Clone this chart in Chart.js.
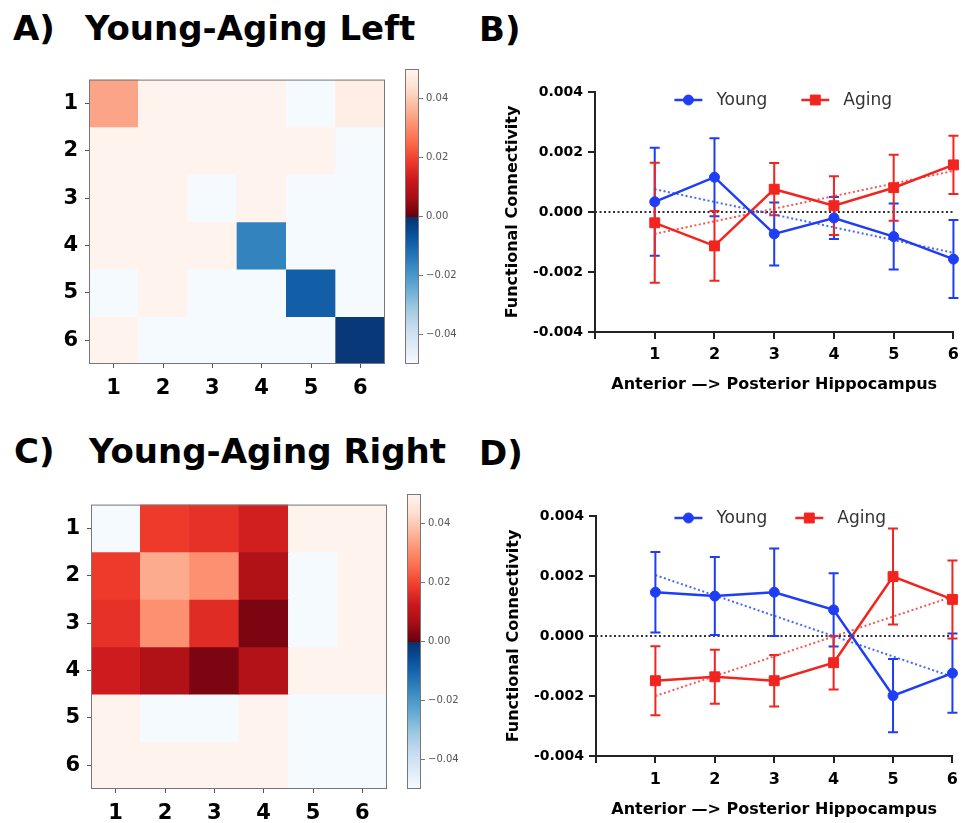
<!DOCTYPE html>
<html>
<head>
<meta charset="utf-8">
<script src="https://cdn.jsdelivr.net/npm/chart.js@4.4.1/dist/chart.umd.min.js"></script>
<style>
  body { margin: 0; background: #fff; width: 965px; height: 823px; position: relative; overflow: hidden; }
  .box { position: absolute; }
  .lbl { position: absolute; font: bold 34px/34px "DejaVu Sans"; color: #000; white-space: nowrap; }
</style>
</head>
<body>
<div class="lbl" style="left:13px;top:11px">A)</div>
<div class="lbl" style="left:85px;top:11px">Young-Aging Left</div>
<div class="lbl" style="left:479px;top:12px">B)</div>
<div class="lbl" style="left:14px;top:434px">C)</div>
<div class="lbl" style="left:89px;top:434px">Young-Aging Right</div>
<div class="lbl" style="left:479px;top:436px">D)</div>

<div class="box" style="left:40px;top:60px;width:350px;height:345px"><canvas id="heatLeft"></canvas></div>
<div class="box" style="left:400px;top:60px;width:65px;height:345px"><canvas id="barLeft"></canvas></div>
<div class="box" style="left:470px;top:60px;width:495px;height:345px"><canvas id="profileLeft"></canvas></div>
<div class="box" style="left:42px;top:485px;width:350px;height:345px"><canvas id="heatRight"></canvas></div>
<div class="box" style="left:402px;top:485px;width:65px;height:345px"><canvas id="barRight"></canvas></div>
<div class="box" style="left:470px;top:480px;width:495px;height:343px"><canvas id="profileRight"></canvas></div>

<script>
// Hippocampal segments, anterior -> posterior
const regions = ['1', '2', '3', '4', '5', '6'];

// Young-Aging difference matrices (row = segment, col = segment)
const leftMatrix = [
    [0.034, 0.0495, 0.0495, 0.0495, -0.0495, 0.048],
    [0.0495, 0.0495, 0.0495, 0.0495, 0.0495, -0.0495],
    [0.0495, 0.0495, -0.0495, 0.0495, -0.0495, -0.0495],
    [0.0495, 0.0495, 0.0495, -0.016, -0.0495, -0.0495],
    [-0.0495, 0.0495, -0.0495, -0.0495, -0.009, -0.0495],
    [0.0495, -0.0495, -0.0495, -0.0495, -0.0495, -0.0015]
];
const rightMatrix = [
    [-0.0495, 0.0185, 0.017, 0.0135, 0.0495, 0.0495],
    [0.0185, 0.035, 0.031, 0.008, -0.0495, 0.0495],
    [0.017, 0.031, 0.016, 0.002, -0.0495, 0.0495],
    [0.013, 0.008, 0.002, 0.0085, 0.0495, 0.0495],
    [0.0495, -0.0495, -0.0495, 0.0495, -0.0495, -0.0495],
    [0.0495, 0.0495, 0.0495, 0.0495, -0.0495, -0.0495]
];
const cbMin = -0.05;
const cbMax = 0.05;
const cbTicks = [-0.04, -0.02, 0, 0.02, 0.04];

// Functional connectivity profiles (mean and error)
const positions = [1, 2, 3, 4, 5, 6];
const youngLeft = [0.00034, 0.00116, -0.00073, -0.0002, -0.00082, -0.00157];
const youngLeftErr = [0.0018, 0.0013, 0.00105, 0.0007, 0.0011, 0.0013];
const agingLeft = [-0.00036, -0.00113, 0.00076, 0.00021, 0.00081, 0.00157];
const agingLeftErr = [0.002, 0.00116, 0.00087, 0.00098, 0.0011, 0.00097];
const youngRight = [0.00146, 0.00133, 0.00146, 0.00087, -0.00199, -0.00124];
const youngRightErr = [0.00134, 0.0013, 0.00146, 0.00122, 0.00122, 0.00132];
const agingRight = [-0.00149, -0.00136, -0.00149, -0.00089, 0.00198, 0.00122];
const agingRightErr = [0.00115, 0.0009, 0.00086, 0.00089, 0.0016, 0.0013];

// Linear fit end points (at first and last segment)
const trendX = [1, 6];
const youngLeftTrend = [0.00076, -0.00136];
const agingLeftTrend = [-0.00073, 0.00137];
const youngRightTrend = [0.00203, -0.00136];
const agingRightTrend = [-0.002, 0.00131];

const BLUE = '#1f3df5';
const RED = '#f2241f';

Chart.defaults.font.family = '"DejaVu Sans"';
Chart.defaults.color = '#000';
Chart.defaults.animation = false;

// matplotlib Reds / Blues nodes
const redsNodes = ['#fff5f0', '#fee0d2', '#fcbba1', '#fc9272', '#fb6a4a', '#ef3b2c', '#cb181d', '#a50f15', '#67000d'];
const bluesNodes = ['#f7fbff', '#deebf7', '#c6dbef', '#9ecae1', '#6baed6', '#4292c6', '#2171b5', '#08519c', '#08306b'];

function hexRgb(h) {
    return [parseInt(h.slice(1, 3), 16), parseInt(h.slice(3, 5), 16), parseInt(h.slice(5, 7), 16)];
}

function sampleMap(nodes, t) {
    t = Math.max(0, Math.min(1, t));
    const pos = t * (nodes.length - 1);
    const i = Math.min(Math.floor(pos), nodes.length - 2);
    const f = pos - i;
    const a = hexRgb(nodes[i]), b = hexRgb(nodes[i + 1]);
    const c = a.map((v, k) => Math.round(v + (b[k] - v) * f));
    return `rgb(${c[0]}, ${c[1]}, ${c[2]})`;
}

// dark at zero, fading to white towards both ends
function cellColor(v) {
    if (v >= 0) return sampleMap(redsNodes, 1 - v / cbMax);
    return sampleMap(bluesNodes, 1 - v / cbMin);
}

const frame = {
    id: 'frame',
    afterDraw(chart) {
        const { ctx, chartArea: a } = chart;
        ctx.save();
        ctx.strokeStyle = '#777';
        ctx.lineWidth = 1;
        ctx.strokeRect(a.left + 0.5, a.top + 0.5, a.right - a.left - 1, a.bottom - a.top - 1);
        ctx.restore();
    }
};

function heatmap(id, matrix) {
    return new Chart(document.getElementById(id), {
        type: 'bar',
        data: {
            labels: regions,
            datasets: matrix.map((row, i) => ({
                label: regions[i],
                data: row.map(() => 1),
                backgroundColor: row.map(cellColor),
                borderWidth: 0,
                barPercentage: 1,
                categoryPercentage: 1
            }))
        },
        options: {
            responsive: true,
            maintainAspectRatio: false,
            layout: { padding: { top: 8, right: 5, left: 0, bottom: 0 } },
            plugins: { legend: { display: false }, tooltip: { enabled: false } },
            scales: {
                x: {
                    stacked: true,
                    afterFit: s => { s.height = 41; },
                    grid: { offset: false, drawOnChartArea: false, tickLength: 4, color: '#555' },
                    border: { display: false },
                    ticks: { font: { size: 21, weight: 'bold' }, padding: 8, color: '#000' }
                },
                y: {
                    stacked: true,
                    reverse: true,
                    min: 0,
                    max: regions.length,
                    afterFit: s => { s.width = 49; },
                    afterBuildTicks: s => { s.ticks = regions.map((r, i) => ({ value: i + 0.5 })); },
                    grid: { drawOnChartArea: false, tickLength: 4, color: '#555' },
                    border: { display: false },
                    ticks: { font: { size: 21, weight: 'bold' }, padding: 7, color: '#000', callback: (v, i) => regions[i] }
                }
            }
        },
        plugins: [frame]
    });
}

function colorGradient(chart) {
    const { ctx, chartArea, scales } = chart;
    if (!chartArea) return '#fff';
    const y0 = scales.y.getPixelForValue(cbMin);
    const y1 = scales.y.getPixelForValue(cbMax);
    const g = ctx.createLinearGradient(0, y0, 0, y1);
    const n = bluesNodes.length - 1;
    bluesNodes.forEach((c, i) => g.addColorStop(0.5 * i / n, c));
    redsNodes.slice().reverse().forEach((c, i) => g.addColorStop(0.5 + 0.5 * i / n, c));
    return g;
}

function colorbar(id) {
    return new Chart(document.getElementById(id), {
        type: 'bar',
        data: {
            labels: [''],
            datasets: [{
                data: [[cbMin, cbMax]],
                backgroundColor: ctx => colorGradient(ctx.chart),
                borderWidth: 0,
                barPercentage: 1,
                categoryPercentage: 1
            }]
        },
        options: {
            responsive: true,
            maintainAspectRatio: false,
            layout: { padding: { top: 8, left: 5, right: 0, bottom: 41 } },
            plugins: { legend: { display: false }, tooltip: { enabled: false } },
            scales: {
                x: { display: false },
                y: {
                    position: 'right',
                    min: cbMin,
                    max: cbMax,
                    afterFit: s => { s.width = 46; },
                    afterBuildTicks: s => { s.ticks = cbTicks.map(v => ({ value: v })); },
                    grid: { drawOnChartArea: false, tickLength: 4, color: '#777' },
                    border: { display: false },
                    ticks: {
                        font: { size: 10 },
                        color: '#555',
                        padding: 3,
                        callback: v => (v < 0 ? '\u2212' : '') + Math.abs(v).toFixed(2)
                    }
                }
            }
        },
        plugins: [frame]
    });
}

// error bars and the zero reference line
const errorBars = {
    id: 'errorBars',
    beforeDatasetsDraw(chart) {
        const { ctx, chartArea: a, scales: { x, y } } = chart;
        ctx.save();
        const y0 = y.getPixelForValue(0);
        ctx.strokeStyle = '#333';
        ctx.lineWidth = 2;
        ctx.setLineDash([2, 2.5]);
        ctx.beginPath();
        ctx.moveTo(a.left, y0);
        ctx.lineTo(a.right, y0);
        ctx.stroke();
        ctx.setLineDash([]);
        chart.data.datasets.forEach(d => {
            if (!d.errors) return;
            ctx.strokeStyle = d.borderColor;
            ctx.lineWidth = 2;
            d.data.forEach((p, j) => {
                const px = x.getPixelForValue(p.x);
                const top = y.getPixelForValue(p.y + d.errors[j]);
                const bot = y.getPixelForValue(p.y - d.errors[j]);
                ctx.beginPath();
                ctx.moveTo(px, top); ctx.lineTo(px, bot);
                ctx.moveTo(px - 5, top); ctx.lineTo(px + 5, top);
                ctx.moveTo(px - 5, bot); ctx.lineTo(px + 5, bot);
                ctx.stroke();
            });
        });
        ctx.restore();
    }
};

// legend drawn inside the plot: line with marker, then label
const lineLegend = {
    id: 'lineLegend',
    afterDraw(chart, args, opts) {
        const { ctx, chartArea: a } = chart;
        const items = chart.data.datasets.filter(d => d.errors);
        const lineW = 28, textGap = 14;
        ctx.save();
        ctx.font = '17px "DejaVu Sans"';
        let total = 0;
        items.forEach((d, i) => { total += lineW + textGap + ctx.measureText(d.label).width + (i ? opts.gap : 0); });
        let x = (a.left + a.right) / 2 + opts.shiftX - total / 2;
        const y = a.top + opts.offsetY;
        items.forEach(d => {
            ctx.strokeStyle = d.borderColor;
            ctx.fillStyle = d.backgroundColor;
            ctx.lineWidth = 2.5;
            ctx.beginPath();
            ctx.moveTo(x, y);
            ctx.lineTo(x + lineW, y);
            ctx.stroke();
            ctx.lineWidth = 1;
            Chart.helpers.drawPoint(ctx, { pointStyle: d.pointStyle, radius: d.pointRadius, borderWidth: 1, rotation: 0 }, x + lineW / 2, y);
            ctx.fillStyle = '#333';
            ctx.textBaseline = 'middle';
            ctx.fillText(d.label, x + lineW + textGap, y + 1);
            x += lineW + textGap + ctx.measureText(d.label).width + opts.gap;
        });
        ctx.restore();
    }
};

function points(xs, ys) {
    return xs.map((x, i) => ({ x, y: ys[i] }));
}

function profile(id, cfg) {
    const series = (label, values, errors, color, style, radius) => ({
        label, data: points(positions, values), errors,
        borderColor: color, backgroundColor: color, borderWidth: 2.5,
        pointStyle: style, pointRadius: radius, pointBorderWidth: 1,
        clip: false, order: 1
    });
    const trend = (values, color) => ({
        label: 'fit', data: points(trendX, values),
        borderColor: color, borderWidth: 2, borderDash: [2, 2.5],
        pointRadius: 0, clip: false, order: 2
    });
    return new Chart(document.getElementById(id), {
        type: 'line',
        data: {
            datasets: [
                series('Young', cfg.young, cfg.youngErr, BLUE, 'circle', 5),
                series('Aging', cfg.aging, cfg.agingErr, RED, 'rect', 7),
                trend(cfg.youngTrend, 'rgba(40, 80, 245, 0.85)'),
                trend(cfg.agingTrend, 'rgba(242, 60, 55, 0.85)')
            ]
        },
        options: {
            responsive: true,
            maintainAspectRatio: false,
            layout: { padding: cfg.padding },
            plugins: {
                legend: { display: false },
                tooltip: { enabled: false },
                lineLegend: cfg.legend
            },
            scales: {
                x: {
                    type: 'linear',
                    min: 0,
                    max: 6,
                    afterFit: s => { s.height = 65; },
                    grid: { drawOnChartArea: false, tickLength: 7, lineWidth: 2, color: '#222' },
                    border: { color: '#222', width: 2 },
                    ticks: { stepSize: 1, font: { size: 16, weight: 'bold' }, padding: cfg.xPad, callback: v => (v === 0 ? '' : v) },
                    title: {
                        display: true,
                        text: 'Anterior \u2014> Posterior Hippocampus',
                        font: { size: 16, weight: 'bold' },
                        padding: { top: 4, bottom: cfg.titlePad }
                    }
                },
                y: {
                    min: -0.004,
                    max: 0.004,
                    afterFit: s => { s.width = 100; },
                    grid: { drawOnChartArea: false, tickLength: 7, lineWidth: 2, color: '#222' },
                    border: { color: '#222', width: 2 },
                    ticks: { stepSize: 0.002, font: { size: 14, weight: 'bold' }, padding: 5, callback: v => v.toFixed(3) },
                    title: {
                        display: true,
                        text: 'Functional Connectivity',
                        font: { size: 16, weight: 'bold' },
                        padding: { top: 8, bottom: 0 }
                    }
                }
            }
        },
        plugins: [errorBars, lineLegend]
    });
}

heatmap('heatLeft', leftMatrix);
colorbar('barLeft');
heatmap('heatRight', rightMatrix);
colorbar('barRight');

profile('profileLeft', {
    young: youngLeft, youngErr: youngLeftErr,
    aging: agingLeft, agingErr: agingLeftErr,
    youngTrend: youngLeftTrend, agingTrend: agingLeftTrend,
    padding: { top: 32, right: 9, bottom: 8, left: 25 },
    xPad: 6, titlePad: 3,
    legend: { shiftX: 9, offsetY: 8, gap: 34 }
});

profile('profileRight', {
    young: youngRight, youngErr: youngRightErr,
    aging: agingRight, agingErr: agingRightErr,
    youngTrend: youngRightTrend, agingTrend: agingRightTrend,
    padding: { top: 36, right: 9, bottom: 2, left: 26 },
    xPad: 7, titlePad: 2,
    legend: { shiftX: 6, offsetY: 2, gap: 28 }
});
</script>
</body>
</html>
